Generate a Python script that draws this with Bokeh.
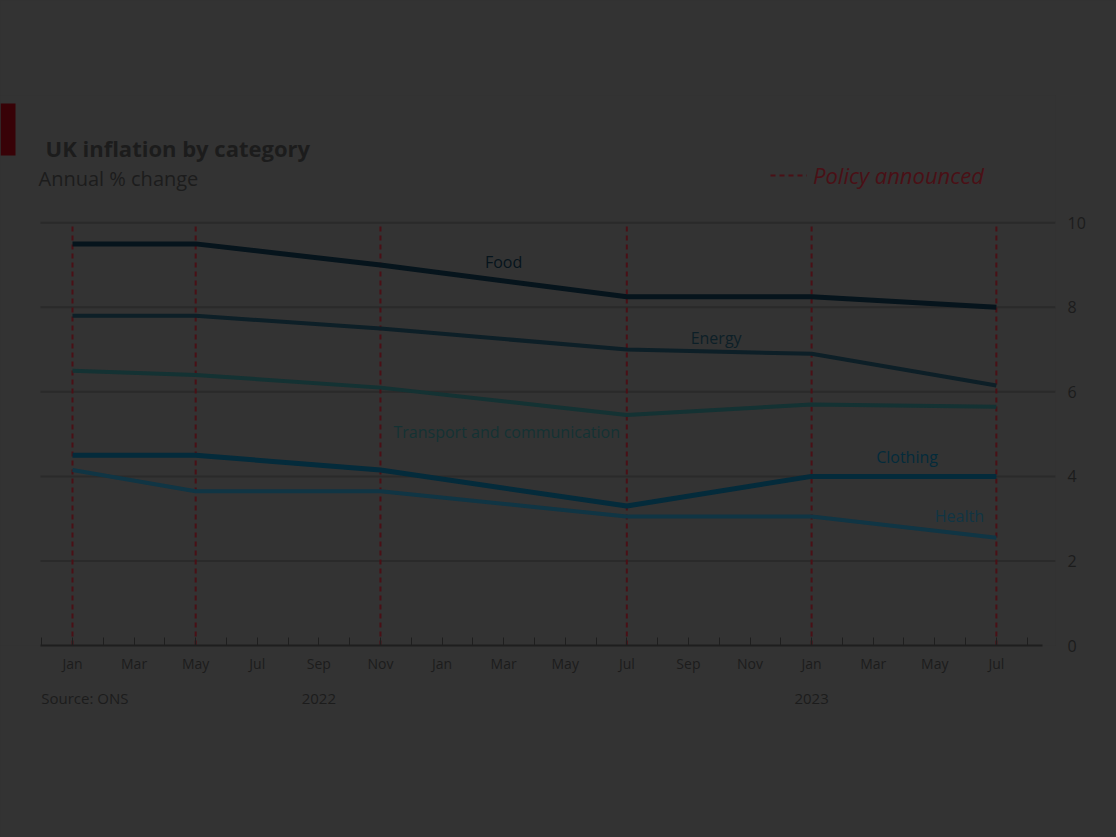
from bokeh.plotting import figure
from bokeh.models import Range1d, LinearAxis, FixedTicker, Label, Legend, LegendItem, BoxAnnotation
from bokeh.embed import file_html
from bokeh.resources import INLINE

# ---- data ----
periods = [0, 4, 10, 18, 24, 30]
policy_dates = [0, 4, 10, 18, 24, 30]
food = [9.5, 9.5, 9.0, 8.25, 8.25, 8.0]
energy = [7.8, 7.8, 7.5, 7.0, 6.9, 6.15]
transport = [6.5, 6.4, 6.1, 5.45, 5.7, 5.65]
clothing = [4.5, 4.5, 4.15, 3.3, 4.0, 4.0]
health = [4.15, 3.65, 3.65, 3.05, 3.05, 2.55]
series_names = ["Food", "Energy", "Transport and communication", "Clothing", "Health"]
month_labels = ["Jan", "Mar", "May", "Jul", "Sep", "Nov", "Jan", "Mar",
                "May", "Jul", "Sep", "Nov", "Jan", "Mar", "May", "Jul"]
year_ticks = [8, 24]
year_labels = ["2022", "2023"]
y_ticks = [0, 2, 4, 6, 8, 10]
title_text = "UK inflation by category"
subtitle_text = "Annual % change"
source_text = "Source: ONS"
legend_text = "Policy announced"

# ---- style ----
BG = "#333333"
FONT = "Open Sans"
DARK = "#1c1c1c"
RED = "#4a1016"
colors = ["#06141c", "#0d1f27", "#143233", "#042b3b", "#103544"]
widths = [5, 4, 4, 5, 4]
label_pos = [(14.0, 9.06), (20.9, 7.28), (14.1, 5.06), (27.1, 4.47), (28.8, 3.07)]
source_tick = 0.4

p = figure(width=1116, height=837, output_backend="svg", toolbar_location=None,
           x_range=Range1d(-2.338, 31.92), y_range=Range1d(0, 13.01),
           y_axis_location="right", min_border_left=0, min_border_right=61,
           min_border_top=95, min_border_bottom=192)
p.background_fill_color = BG
p.border_fill_color = BG
p.outline_line_color = None
p.styles = {"background-color": BG}

# grid (drawn as segments so it starts at the axis start)
p.xgrid.grid_line_color = None
p.ygrid.grid_line_color = None
grid_y = y_ticks[1:]
p.segment(x0=[-1.04] * len(grid_y), x1=[31.92] * len(grid_y), y0=grid_y, y1=grid_y,
          line_color="#2a2a2a", line_width=2)

# right axis
p.yaxis.ticker = FixedTicker(ticks=y_ticks)
p.yaxis.axis_line_color = None
p.yaxis.major_tick_line_color = None
p.yaxis.minor_tick_line_color = None
p.yaxis.major_label_text_font = FONT
p.yaxis.major_label_text_font_size = "16px"
p.yaxis.major_label_text_color = DARK
p.yaxis.major_label_standoff = 6

# bottom axis
xa = p.xaxis[0]
ticks = list(range(-1, 32))
xa.ticker = FixedTicker(ticks=ticks)
xa.bounds = (-1.04, 31.5)
overrides = {t: "" for t in ticks}
for i, lab in enumerate(month_labels):
    overrides[2 * i] = lab
xa.major_label_overrides = overrides
xa.axis_line_color = "#1e1e1e"
xa.axis_line_width = 2
xa.major_tick_in = 8
xa.major_tick_out = 0
xa.major_tick_line_color = "#1e1e1e"
xa.minor_tick_line_color = None
xa.major_label_text_font = FONT
xa.major_label_text_font_size = "14px"
xa.major_label_text_color = DARK
xa.major_label_standoff = 8

yr_over = {t: l for t, l in zip(year_ticks, year_labels)}
yr_over[source_tick] = source_text
ya = LinearAxis(ticker=FixedTicker(ticks=[source_tick] + year_ticks),
                major_label_overrides=yr_over)
ya.axis_line_color = None
ya.major_tick_line_color = None
ya.minor_tick_line_color = None
ya.major_label_text_font = FONT
ya.major_label_text_font_size = "15px"
ya.major_label_text_color = DARK
ya.major_label_standoff = 6
p.add_layout(ya, "below")

# policy lines
pol = p.segment(x0=policy_dates, y0=[0] * len(policy_dates), x1=policy_dates,
                y1=[10] * len(policy_dates), line_color=RED, line_width=2, line_dash="5 4")

# series
all_series = [food, energy, transport, clothing, health]
for vals, c, w, name, (lx, ly) in zip(all_series, colors, widths, series_names, label_pos):
    p.line(periods, vals, line_color=c, line_width=w)
    p.add_layout(Label(x=lx, y=ly, text=name, text_align="center", text_baseline="middle",
                       text_font=FONT, text_font_size="16px", text_color=c))

# legend
leg = Legend(items=[LegendItem(label=legend_text, renderers=[pol])],
             location=(770, 455), orientation="horizontal",
             background_fill_alpha=0, border_line_color=None,
             label_text_font=FONT, label_text_font_size="22px", label_text_color=RED,
             label_text_font_style="italic",
             glyph_width=37, glyph_height=22, padding=0, margin=0, label_standoff=6)
p.add_layout(leg, "center")

# title block (screen units, relative to frame bottom-left)
p.add_layout(BoxAnnotation(left=0, right=15, top=542, bottom=490,
                           left_units="screen", right_units="screen",
                           top_units="screen", bottom_units="screen",
                           fill_color="#380207", fill_alpha=1, line_color=None))
p.add_layout(Label(x=45, y=498, x_units="screen", y_units="screen",
                   text=title_text,
                   text_font=FONT, text_font_size="22px", text_font_style="bold",
                   text_color=DARK, text_baseline="middle"))
p.add_layout(Label(x=38, y=467, x_units="screen", y_units="screen",
                   text=subtitle_text,
                   text_font=FONT, text_font_size="20px",
                   text_color=DARK, text_baseline="middle"))

open("out.html", "w").write(file_html(p, INLINE))
